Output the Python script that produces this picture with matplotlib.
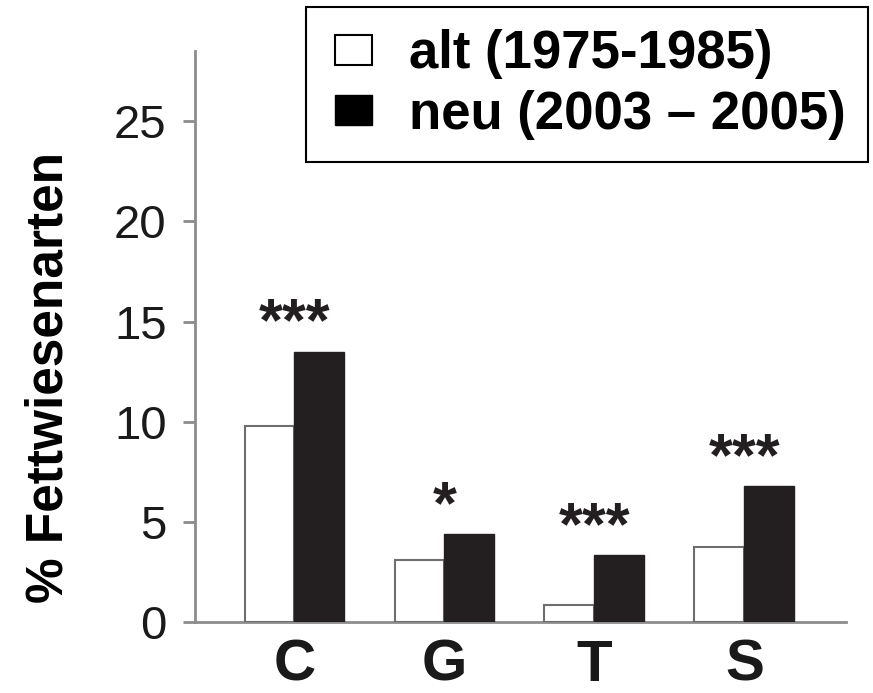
import numpy as np
import matplotlib.pyplot as plt
from matplotlib.patches import Patch, Rectangle
from matplotlib.legend_handler import HandlerPatch

plt.rcParams['font.family'] = ['Liberation Sans', 'DejaVu Sans']

#--------- Data -----------
groups = ["C", "G", "T", "S"]
alt_values = [9.8, 3.1, 0.85, 3.75]   # % Fettwiesenarten, 1975-1985
neu_values = [13.5, 4.4, 3.35, 6.8]   # % Fettwiesenarten, 2003-2005
stars = ["***", "*", "***", "***"]   # significance of the change
yticks = [0, 5, 10, 15, 20, 25]

#--------- Figure -----------
fig = plt.figure(figsize=(8.73, 6.93), dpi=100)
ax = fig.add_axes([0.2234, 0.1025, 0.7456, 0.8235])

x = np.arange(len(groups))
w = 0.333
axis_grey = "#8c8c8c"

ax.bar(x - w/2, alt_values, width=w, color="white", edgecolor="#6e6e6e", linewidth=1.5, zorder=3)
ax.bar(x + w/2, neu_values, width=w, color="#231f20", edgecolor="#231f20", linewidth=1.0, zorder=3)

# significance stars above the newer bar
for xi, v, s in zip(x, neu_values, stars):
    ax.annotate(s, xy=(xi, v), xytext=(0, 8), textcoords="offset points",
                ha="center", va="baseline", fontsize=44, fontweight="bold", color="#231f20")

ax.set_xlim(-0.663, 3.677)
ax.set_ylim(0, 28.5)

ax.set_yticks(yticks)
ax.set_yticklabels([str(t) for t in yticks], fontsize=34, color="#1a1a1a")
ax.set_xticks(x)
ax.set_xticklabels(groups, fontsize=42, fontweight="bold", color="#1a1a1a")

ax.tick_params(axis="y", direction="out", length=8.5, width=2, color=axis_grey, pad=12)
ax.tick_params(axis="x", length=0, pad=12)

for side in ["top", "right"]:
    ax.spines[side].set_visible(False)
for side in ["left", "bottom"]:
    ax.spines[side].set_color(axis_grey)
    ax.spines[side].set_linewidth(2)

ax.set_ylabel("% Fettwiesenarten", fontsize=37, fontweight="bold")
ax.yaxis.set_label_coords(-0.187, 0.429)


# small square key, pushed to the right end of its handle box
def square_key(legend, orig_handle, xdescent, ydescent, width, height, fontsize):
    sw = 0.70 * fontsize
    sh = 0.57 * fontsize
    return Rectangle((-xdescent + width - sw, -ydescent + (height - sh) / 2), sw, sh)


handles = [Patch(facecolor="white", edgecolor="black", linewidth=1.5),
           Patch(facecolor="black", edgecolor="black")]
leg = fig.legend(handles, ["alt (1975-1985)", "neu (2003 \u2013 2005)"],
                 loc="upper right", bbox_to_anchor=(0.9943, 0.99),
                 prop={"size": 38, "weight": "bold"},
                 handler_map={Patch: HandlerPatch(patch_func=square_key)},
                 handlelength=0.83, handleheight=0.7, handletextpad=0.70,
                 borderpad=0.42, labelspacing=0.2, fancybox=False,
                 framealpha=1, borderaxespad=0)
leg.get_frame().set_edgecolor("black")
leg.get_frame().set_linewidth(1.5)

plt.savefig("out.png", dpi=100)
